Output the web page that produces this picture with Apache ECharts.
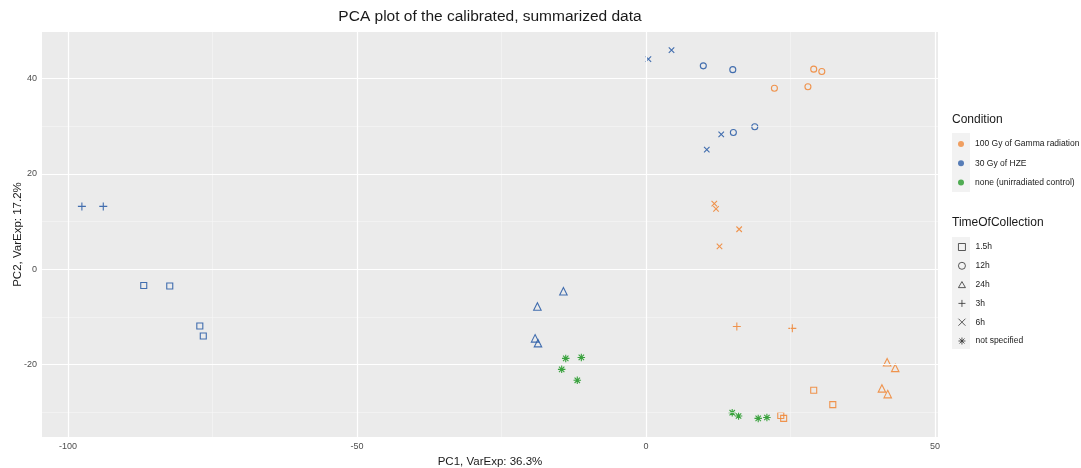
<!DOCTYPE html>
<html>
<head>
<meta charset="utf-8">
<script src="https://cdn.jsdelivr.net/npm/echarts@6/dist/echarts.min.js"></script>
<style>html,body{margin:0;padding:0;background:#fff}#c{width:1081px;height:468px}</style>
</head>
<body>
<div id="c"></div>
<script>
// ---- data ----
const conditions = ['100 Gy of Gamma radiation', '30 Gy of HZE', 'none (unirradiated control)'];
const times = ['1.5h', '12h', '24h', '3h', '6h', 'not specified'];
const xTicks = [-100, -50, 0, 50];
const xMinor = [-75, -25, 25];
const yTicks = [-20, 0, 20, 40];
const yMinor = [-30, -10, 10, 30];
// each sample: PC1, PC2, condition index, time index
const pc1  = [-97.6, -93.9, -86.9, -82.4, -77.2, -76.6,
              0.4, 4.4, 13.0, 10.5, 9.9, 15.0, 15.1, 18.8,
              -14.3, -18.8, -19.2, -18.7,
              22.2, 28.0, 29.0, 30.4,
              11.8, 12.1, 16.1, 12.7,
              15.7, 25.3,
              41.7, 43.1, 40.8, 41.8,
              29.0, 32.3, 23.3, 23.8,
              -13.9, -11.2, -14.6, -11.9,
              14.9, 16.0, 19.4, 20.9];
const pc2  = [13.2, 13.2, -3.4, -3.5, -11.9, -14.0,
              44.1, 46.0, 28.3, 25.1, 42.7, 41.9, 28.7, 29.9,
              -4.6, -7.8, -14.5, -15.5,
              38.0, 38.3, 42.0, 41.5,
              13.8, 12.7, 8.4, 4.8,
              -12.0, -12.4,
              -19.5, -20.7, -25.0, -26.2,
              -25.4, -28.4, -30.7, -31.3,
              -18.7, -18.5, -21.0, -23.3,
              -30.1, -30.8, -31.3, -31.1];
const cond = [1, 1, 1, 1, 1, 1,
              1, 1, 1, 1, 1, 1, 1, 1,
              1, 1, 1, 1,
              0, 0, 0, 0,
              0, 0, 0, 0,
              0, 0,
              0, 0, 0, 0,
              0, 0, 0, 0,
              2, 2, 2, 2,
              2, 2, 2, 2];
const time = [3, 3, 0, 0, 0, 0,
              4, 4, 4, 4, 1, 1, 1, 1,
              2, 2, 2, 2,
              1, 1, 1, 1,
              4, 4, 4, 4,
              3, 3,
              2, 2, 2, 2,
              0, 0, 0, 0,
              5, 5, 5, 5,
              5, 5, 5, 5];

// ---- styles ----
const FONT = 'Liberation Sans, Arial, sans-serif';
const condColors = ['#EF8A3C', '#2F5FA7', '#279A2B'];
const shapes = [
  'rect',
  'circle',
  'path://M0,-5L4.33,2.5L-4.33,2.5Z',
  'path://M0,-5L0,5M-5,0L5,0',
  'path://M-5,-5L5,5M-5,5L5,-5',
  'path://M0,-5L0,5M-5,0L5,0M-3.6,-3.6L3.6,3.6M-3.6,3.6L3.6,-3.6'
];
const sizes = [6, 6, 7.5, 8, 5.5, 7.5];

const series = [];
// grid lines
series.push({
  type: 'line', data: [], silent: true, z: 1,
  markLine: {
    silent: true, symbol: 'none', animation: false,
    label: {show: false},
    emphasis: {disabled: true},
    lineStyle: {color: '#ffffff', type: 'solid', width: 1.2},
    data: []
      .concat(xMinor.map(v => ({xAxis: v, lineStyle: {width: 0.6, color: '#F7F7F7'}})))
      .concat(yMinor.map(v => ({yAxis: v, lineStyle: {width: 0.6, color: '#F7F7F7'}})))
      .concat(xTicks.map(v => ({xAxis: v, lineStyle: {width: 1.2, color: '#ffffff'}})))
      .concat(yTicks.map(v => ({yAxis: v, lineStyle: {width: 1.2, color: '#ffffff'}})))
  }
});
// condition legend dummies
conditions.forEach((c, i) => {
  series.push({type: 'scatter', name: c, data: [], symbol: 'circle', itemStyle: {color: condColors[i]}});
});
// points, one series per time of collection
times.forEach((t, ti) => {
  const data = [];
  for (let k = 0; k < pc1.length; k++) {
    if (time[k] !== ti) continue;
    data.push({value: [pc1[k], pc2[k]], itemStyle: {borderColor: condColors[cond[k]]}});
  }
  series.push({
    type: 'scatter', name: t, symbol: shapes[ti], symbolSize: sizes[ti], z: 3,
    itemStyle: {color: 'rgba(0,0,0,0)', borderColor: '#333333', borderWidth: 1.1, opacity: 0.9},
    emphasis: {disabled: true},
    data: data
  });
});

const chart = echarts.init(document.getElementById('c'), null, {renderer: 'canvas'});
chart.setOption({
  animation: false,
  backgroundColor: '#ffffff',
  textStyle: {fontFamily: FONT},
  grid: {left: 42, top: 32, right: 143, bottom: 31, show: true, backgroundColor: '#EBEBEB',
         borderWidth: 0, containLabel: false, outerBoundsMode: 'none'},
  xAxis: {
    type: 'value', min: -104.5, max: 50.5,
    name: 'PC1, VarExp: 36.3%', nameLocation: 'middle', nameGap: 19,
    nameTextStyle: {fontSize: 11.5, color: '#1a1a1a'},
    axisLine: {show: false},
    axisTick: {show: true, length: 3, lineStyle: {color: '#333333'}, customValues: xTicks},
    axisLabel: {fontSize: 9, color: '#4D4D4D', margin: 5, customValues: xTicks},
    splitLine: {show: false}
  },
  yAxis: {
    type: 'value', min: -35.2, max: 49.8,
    name: 'PC2, VarExp: 17.2%', nameLocation: 'middle', nameGap: 18, nameRotate: 90, nameMoveOverlap: false,
    nameTextStyle: {fontSize: 11.5, color: '#1a1a1a'},
    axisLine: {show: false},
    axisTick: {show: true, length: 3, lineStyle: {color: '#333333'}, customValues: yTicks},
    axisLabel: {fontSize: 9, color: '#4D4D4D', margin: 5, customValues: yTicks},
    splitLine: {show: false}
  },
  legend: [
    {
      orient: 'vertical', left: 958, top: 138, padding: 0, itemGap: 7.3, itemWidth: 6, itemHeight: 6,
      data: conditions.map(n => ({name: n, icon: 'circle'})),
      textStyle: {fontSize: 8.5, color: '#1a1a1a', lineHeight: 12, padding: [0, 0, 0, 6]},
      selectedMode: false
    },
    {
      orient: 'vertical', left: 958, top: 241, padding: 0, itemGap: 6.8, itemWidth: 7, itemHeight: 7,
      data: times.map(n => ({name: n, itemStyle: {color: 'rgba(0,0,0,0)', borderColor: '#333333', borderWidth: 0.9}})),
      textStyle: {fontSize: 8.5, color: '#1a1a1a', lineHeight: 12, padding: [0, 0, 0, 5]},
      selectedMode: false
    }
  ],
  graphic: [
    {type: 'rect', left: 952, top: 133, shape: {width: 18, height: 59}, style: {fill: '#F2F2F2'}, z: -1, silent: true},
    {type: 'rect', left: 952, top: 237, shape: {width: 18, height: 112}, style: {fill: '#F2F2F2'}, z: -1, silent: true},
    {type: 'text', x: 490, y: 17, style: {text: 'PCA plot of the calibrated, summarized data', fontSize: 15.5,
      fill: '#1a1a1a', fontFamily: FONT, textAlign: 'center', textVerticalAlign: 'middle'}},
    {type: 'text', left: 952, top: 114, style: {text: 'Condition', fontSize: 12, fill: '#1a1a1a', fontFamily: FONT}},
    {type: 'text', left: 952, top: 217, style: {text: 'TimeOfCollection', fontSize: 12, fill: '#1a1a1a', fontFamily: FONT}}
  ],
  series: series
});
</script>
</body>
</html>
